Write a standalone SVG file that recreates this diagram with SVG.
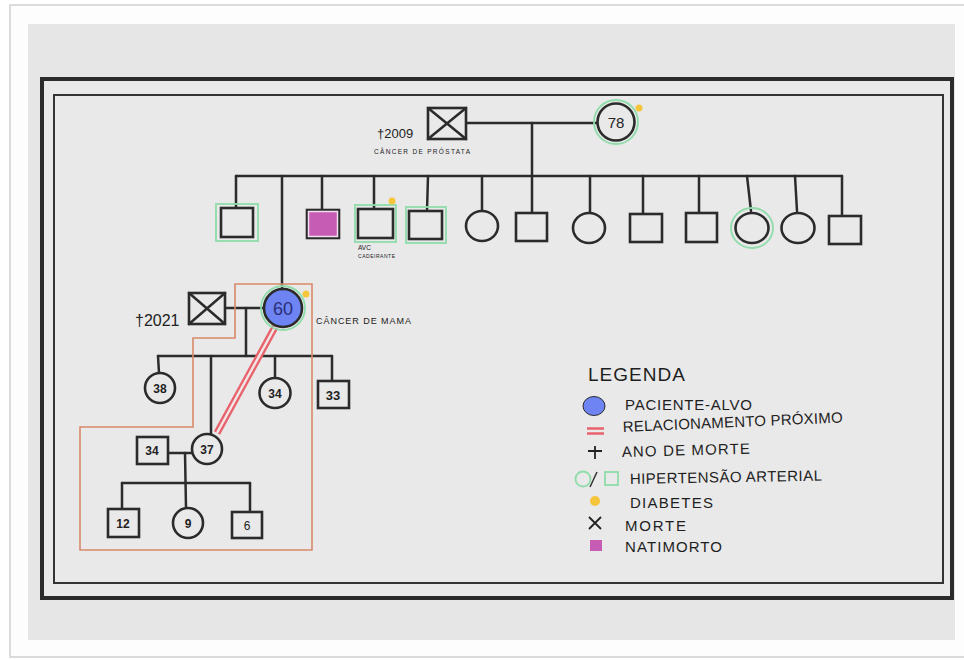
<svg xmlns="http://www.w3.org/2000/svg" width="964" height="660" viewBox="0 0 964 660">
<defs>
<style>
.ln{stroke:#2b2b2b;stroke-width:2.5;fill:none;stroke-linecap:round}
.nd{stroke:#2b2b2b;stroke-width:2.6;fill:#e9e9e9}
.hy{stroke:#8fdcaa;stroke-width:1.8;fill:none}
.dot{fill:#f5c53c}
.num{font-family:"Liberation Sans",Arial,sans-serif;font-weight:bold;fill:#222;text-anchor:middle}
.lbl{font-family:"Liberation Sans",Arial,sans-serif;fill:#222}
.leg{font-family:"Liberation Sans",Arial,sans-serif;fill:#1e1e1e;font-size:15px}
</style>
</defs>
<rect x="0" y="0" width="964" height="660" fill="#ffffff"/>
<rect x="10" y="5" width="962" height="652" fill="#fdfdfd" stroke="#cfcfcf" stroke-width="1.5"/>
<rect x="28" y="24" width="927" height="616" fill="#e6e6e6"/>
<rect x="42" y="79" width="910" height="519" fill="#e9e9e9" stroke="#2b2b2b" stroke-width="4"/>
<rect x="54" y="95" width="889" height="488" fill="none" stroke="#333" stroke-width="2"/>

<g id="connectors">
<line class="ln" x1="466" y1="123" x2="597" y2="123"/>
<line class="ln" x1="532" y1="123" x2="532" y2="176"/>
<line class="ln" x1="236" y1="176" x2="842" y2="176"/>
<line class="ln" x1="236" y1="176" x2="236" y2="208"/>
<line class="ln" x1="282" y1="176" x2="282" y2="289"/>
<line class="ln" x1="322" y1="176" x2="322" y2="210"/>
<line class="ln" x1="374" y1="176" x2="374" y2="209"/>
<line class="ln" x1="428" y1="176" x2="427" y2="211"/>
<line class="ln" x1="482" y1="176" x2="482" y2="210"/>
<line class="ln" x1="532" y1="176" x2="532" y2="213"/>
<line class="ln" x1="590" y1="176" x2="590" y2="212"/>
<line class="ln" x1="643" y1="176" x2="643" y2="214"/>
<line class="ln" x1="699" y1="176" x2="699" y2="213"/>
<line class="ln" x1="747" y1="176" x2="751" y2="211"/>
<line class="ln" x1="795" y1="176" x2="797" y2="211"/>
<line class="ln" x1="842" y1="176" x2="842" y2="216"/>
<line class="ln" x1="225" y1="308" x2="264" y2="308"/>
<line class="ln" x1="246" y1="308" x2="246" y2="356"/>
<line class="ln" x1="158" y1="356" x2="332" y2="356"/>
<line class="ln" x1="158" y1="356" x2="159" y2="373"/>
<line class="ln" x1="211" y1="356" x2="211" y2="435"/>
<line class="ln" x1="275" y1="356" x2="275" y2="378"/>
<line class="ln" x1="332" y1="356" x2="332" y2="381"/>
<line class="ln" x1="168" y1="453" x2="193" y2="453"/>
<line class="ln" x1="185" y1="453" x2="186" y2="508"/>
<line class="ln" x1="122" y1="483" x2="250" y2="483"/>
<line class="ln" x1="122" y1="483" x2="122" y2="509"/>
<line class="ln" x1="250" y1="483" x2="250" y2="512"/>
<line x1="275" y1="327" x2="217" y2="433" stroke="#e8626c" stroke-width="7"/>
<line x1="275" y1="327" x2="217" y2="433" stroke="#f1e6e6" stroke-width="2.4"/>
<path d="M235,284 H312 V550 H80 V427 H193 V338 H235 Z" fill="none" stroke="#d9886a" stroke-width="1.6"/>
</g>

<g id="grandfather">
<rect class="nd" x="428" y="108" width="38" height="31"/>
<path class="ln" d="M428,108 L466,139 M466,108 L428,139"/>
<text class="lbl" x="377" y="138" font-size="13">†2009</text>
<text class="lbl" x="374" y="154" font-size="6.5" textLength="96">CÂNCER DE PRÓSTATA</text>
</g>
<g id="grandmother">
<circle class="hy" cx="616" cy="122" r="22"/>
<circle class="nd" cx="616" cy="122" r="18.5"/>
<text class="num" x="616" y="128" font-size="15" style="font-weight:normal">78</text>
<circle class="dot" cx="639" cy="108" r="3.5"/>
</g>

<g id="child1"><rect class="hy" x="216" y="204" width="42" height="37"/><rect class="nd" x="221" y="208" width="32" height="29"/></g>
<g id="child2"><rect class="nd" x="307" y="210" width="32" height="28" style="fill:#c65cb4"/><rect x="308.5" y="211.5" width="29" height="25" fill="none" stroke="#f2dff0" stroke-width="1.5"/></g>
<g id="child3"><rect class="hy" x="355" y="205" width="41" height="37"/><rect class="nd" x="358" y="209" width="35" height="29"/><circle class="dot" cx="392" cy="201" r="3.5"/>
<text class="lbl" x="358" y="250" font-size="6.5">AVC</text><text class="lbl" x="358" y="258" font-size="5" textLength="37">CADEIRANTE</text></g>
<g id="child4"><rect class="hy" x="406" y="207" width="40" height="36"/><rect class="nd" x="409" y="211" width="33" height="28"/></g>
<g id="child5"><ellipse class="nd" cx="482" cy="226" rx="16" ry="15"/></g>
<g id="child6"><rect class="nd" x="516" y="213" width="31" height="28"/></g>
<g id="child7"><ellipse class="nd" cx="589" cy="228" rx="16" ry="15"/></g>
<g id="child8"><rect class="nd" x="630" y="214" width="32" height="28"/></g>
<g id="child9"><rect class="nd" x="686" y="213" width="31" height="29"/></g>
<g id="child10"><ellipse class="hy" cx="752" cy="228" rx="21" ry="20"/><ellipse class="nd" cx="752" cy="228" rx="16.5" ry="15"/></g>
<g id="child11"><ellipse class="nd" cx="798" cy="228" rx="16.5" ry="15"/></g>
<g id="child12"><rect class="nd" x="829" y="216" width="32" height="28"/></g>

<g id="father">
<rect class="nd" x="189" y="293" width="36" height="31"/>
<path class="ln" d="M189,293 L225,324 M225,293 L189,324"/>
<text class="lbl" x="135" y="326" font-size="16">†2021</text>
</g>
<g id="mother">
<circle class="hy" cx="283" cy="308" r="22"/>
<circle cx="283" cy="308" r="19" fill="#6d84f2" stroke="#2b2b2b" stroke-width="2.6"/>
<text class="num" x="283" y="315" font-size="18" style="fill:#2a2f7a;font-weight:normal">60</text>
<circle class="dot" cx="306" cy="294" r="3.5"/>
<text class="lbl" x="316" y="324" font-size="9" textLength="95">CÂNCER DE MAMA</text>
</g>

<g id="sib38"><ellipse class="nd" cx="160" cy="388" rx="15" ry="15"/><text class="num" x="160" y="393" font-size="12">38</text></g>
<g id="sib34"><ellipse class="nd" cx="275" cy="393" rx="15.5" ry="15"/><text class="num" x="275" y="398" font-size="12">34</text></g>
<g id="sib33"><rect class="nd" x="318" y="381" width="31" height="27"/><text class="num" x="333" y="400" font-size="13">33</text></g>
<g id="spouse34"><rect class="nd" x="137" y="437" width="31" height="27"/><text class="num" x="152" y="455" font-size="12">34</text></g>
<g id="daughter37"><ellipse class="nd" cx="207" cy="449" rx="15" ry="15"/><text class="num" x="207" y="454" font-size="12">37</text></g>
<g id="grand12"><rect class="nd" x="108" y="509" width="31" height="28"/><text class="num" x="123" y="528" font-size="12">12</text></g>
<g id="grand9"><ellipse class="nd" cx="188" cy="523" rx="15" ry="15"/><text class="num" x="188" y="528" font-size="12">9</text></g>
<g id="grand6"><rect class="nd" x="232" y="512" width="30" height="26"/><text class="num" x="247" y="530" font-size="12" style="font-weight:normal">6</text></g>

<g id="legend">
<text class="leg" x="588" y="381" textLength="97" style="font-size:19px">LEGENDA</text>
<ellipse cx="594" cy="406" rx="11" ry="9.5" fill="#6d84f2" stroke="#2b2b2b" stroke-width="1"/>
<text class="leg" x="625" y="410" textLength="127">PACIENTE-ALVO</text>
<line x1="587" y1="428.5" x2="604" y2="428.5" stroke="#e8626c" stroke-width="2.5"/>
<line x1="587" y1="433.5" x2="604" y2="433.5" stroke="#e8626c" stroke-width="2.5"/>
<text class="leg" x="623" y="432" textLength="220" transform="rotate(-2.5 623 432)">RELACIONAMENTO PRÓXIMO</text>
<path d="M595,446 V459 M588,451 H602" stroke="#222" stroke-width="1.8" fill="none"/>
<text class="leg" x="622" y="457" textLength="128" transform="rotate(-1.5 622 457)">ANO DE MORTE</text>
<circle cx="583" cy="479" r="7.5" fill="none" stroke="#8fdcaa" stroke-width="1.8"/>
<line x1="590" y1="487" x2="597" y2="472" stroke="#333" stroke-width="1.5"/>
<rect x="605" y="472" width="13" height="13" fill="none" stroke="#8fdcaa" stroke-width="1.8"/>
<text class="leg" x="630" y="484" textLength="192" transform="rotate(-1 630 484)">HIPERTENSÃO ARTERIAL</text>
<circle class="dot" cx="595" cy="501" r="5"/>
<text class="leg" x="630" y="508" textLength="83">DIABETES</text>
<path d="M589,517 L601,529 M601,517 L589,529" stroke="#222" stroke-width="1.8" fill="none"/>
<text class="leg" x="625" y="531" textLength="61">MORTE</text>
<rect x="590" y="540" width="12" height="11" fill="#c65cb4"/>
<text class="leg" x="625" y="552" textLength="97">NATIMORTO</text>
</g>
</svg>
